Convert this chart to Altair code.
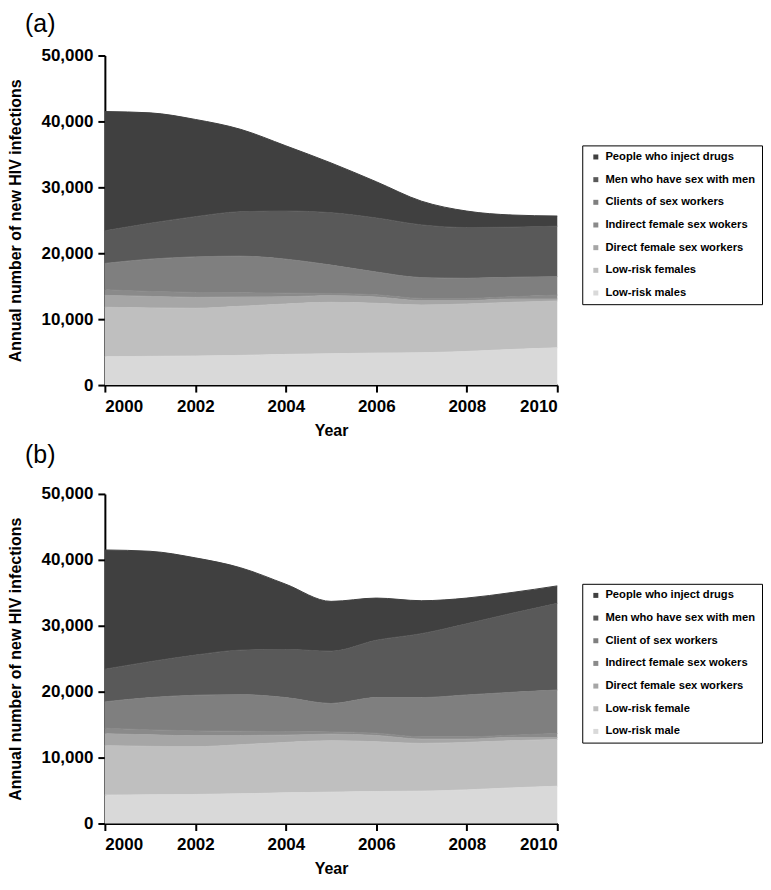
import altair as alt
import pandas as pd

years = list(range(2000, 2011))

labels_a = ["People who inject drugs", "Men who have sex with men", "Clients of sex workers",
            "Indirect female sex wokers", "Direct female sex workers", "Low-risk females",
            "Low-risk males"]
labels_b = ["People who inject drugs", "Men who have sex with men", "Client of sex workers",
            "Indirect female sex wokers", "Direct female sex workers", "Low-risk female",
            "Low-risk male"]

colors = ["#404040", "#595959", "#7f7f7f", "#8a8a8a", "#a6a6a6", "#bfbfbf", "#d9d9d9"]

# Panel (a)
a_pwid = [18100, 16750, 14750, 12500, 9900, 7550, 5500, 3600, 2500, 1850, 1550]
a_msm = [4950, 5450, 6100, 6750, 7300, 7950, 8200, 8000, 7700, 7600, 7650]
a_clients = [4000, 4900, 5400, 5550, 5150, 4300, 3450, 3150, 3050, 2950, 2800]
a_indirect = [850, 750, 750, 650, 550, 350, 350, 350, 350, 350, 600]
a_direct = [1800, 1750, 1650, 1400, 1100, 1000, 950, 650, 500, 500, 300]
a_lr_female = [7500, 7350, 7250, 7450, 7650, 7800, 7550, 7250, 7200, 7150, 7100]
a_lr_male = [4300, 4350, 4400, 4500, 4650, 4750, 4850, 4900, 5100, 5400, 5650]

# Panel (b)
b_pwid = [18100, 16750, 14750, 12500, 9900, 7550, 6400, 5000, 3900, 3150, 2650]
b_msm = [4950, 5450, 6100, 6750, 7300, 7950, 8700, 9700, 10800, 12000, 13150]
b_clients = [4000, 4900, 5400, 5550, 5150, 4300, 5400, 5950, 6350, 6500, 6600]
b_indirect = [850, 750, 750, 650, 550, 350, 350, 350, 350, 350, 600]
b_direct = [1800, 1750, 1650, 1400, 1100, 1000, 950, 650, 500, 500, 300]
b_lr_female = [7500, 7350, 7250, 7450, 7650, 7800, 7550, 7250, 7200, 7150, 7100]
b_lr_male = [4300, 4350, 4400, 4500, 4650, 4750, 4850, 4900, 5100, 5400, 5650]

x_ticks = [2000, 2002, 2004, 2006, 2008, 2010]
y_ticks = [0, 10000, 20000, 30000, 40000, 50000]

FONT = "Liberation Sans"


def build_df(series, labels):
    rows = []
    for rank, (lab, vals) in enumerate(zip(labels, series)):
        for yr, v in zip(years, vals):
            rows.append({"year": yr, "group": lab, "rank": rank, "value": v})
    return pd.DataFrame(rows)


def panel(series, labels, tag, title_offset):
    df = build_df(series, labels)
    base = alt.Chart(df).transform_stack(
        stack="value", groupby=["year"], as_=["y0", "y1"],
        sort=[alt.SortField("rank", order="descending")]
    )
    area = base.mark_area(
        interpolate="monotone", opacity=1,
        line={"color": "white", "strokeWidth": 1},
    ).encode(
        x=alt.X("year:Q",
                scale=alt.Scale(domain=[2000, 2010], nice=False, zero=False),
                axis=alt.Axis(values=x_ticks, format="d", title="Year",
                              labelPadding=6, titlePadding=8)),
        y=alt.Y("y1:Q",
                scale=alt.Scale(domain=[0, 50000], nice=False),
                axis=alt.Axis(values=y_ticks, format=",.0f",
                              title="Annual number of new HIV infections",
                              labelPadding=5, titlePadding=17)),
        y2="y0:Q",
        color=alt.Color("group:N",
                        scale=alt.Scale(domain=labels, range=colors),
                        legend=alt.Legend(
                            title=None, orient="none", legendX=478, legendY=90,
                            symbolType="square", symbolSize=25, symbolStrokeWidth=0,
                            symbolOpacity=1,
                            labelFont=FONT, labelFontSize=11.2, labelFontWeight="bold",
                            labelColor="black", strokeColor="black", padding=6,
                            rowPadding=10.7, labelOffset=4, symbolOffset=2,
                            labelLimit=300)),
        order=alt.Order("rank:Q"),
    ).properties(
        width=453, height=330,
        title=alt.TitleParams(tag, anchor="start", frame="group", dx=-80,
                              fontSize=25, fontWeight="normal", font=FONT,
                              color="black", offset=title_offset),
    )
    return area


chart_a = panel([a_pwid, a_msm, a_clients, a_indirect, a_direct, a_lr_female, a_lr_male],
                labels_a, "(a)", 10)
chart_b = panel([b_pwid, b_msm, b_clients, b_indirect, b_direct, b_lr_female, b_lr_male],
                labels_b, "(b)", 17)

chart = alt.vconcat(chart_a, chart_b, spacing=5).resolve_scale(
    color="independent"
).resolve_legend(color="independent").properties(
    padding={"left": 0, "top": 3, "right": 0, "bottom": 0}
).configure_view(stroke=None).configure_axis(
    grid=False, domainColor="black", domainWidth=2, tickColor="black", tickWidth=2,
    tickSize=7, labelFont=FONT, labelFontSize=17, labelFontWeight="bold",
    labelColor="black", titleFont=FONT, titleFontSize=16, titleFontWeight="bold",
    titleColor="black"
)

chart.save("out.html", embed_options={"renderer": "svg", "actions": False})
